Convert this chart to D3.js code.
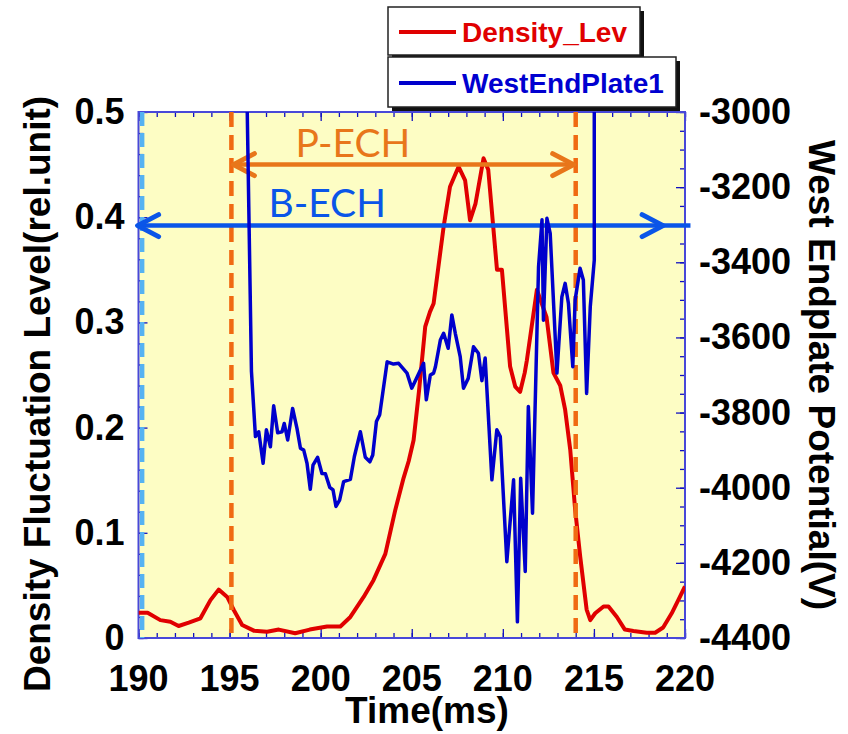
<!DOCTYPE html>
<html>
<head>
<meta charset="utf-8">
<script src="https://cdn.jsdelivr.net/npm/d3@7"></script>
<style>
  body { margin: 0; background: #fff; }
  svg { display: block; }
</style>
</head>
<body>
<svg width="848" height="734"></svg>
<script>
// Density fluctuation level (left axis)
const densityTime = [190.0, 190.5, 191.2, 191.75, 192.2, 192.76, 193.4, 193.95, 194.4, 194.87, 195.23, 195.69,
  196.33, 197.06, 197.7, 198.6, 199.4, 200.35, 201.08, 201.63, 202.36, 202.9, 203.55, 204.1, 204.55, 204.83,
  205.1, 205.4, 205.74, 206.0, 206.2, 206.75, 207.1, 207.57, 207.93, 208.2, 208.5, 208.94, 209.2, 209.68,
  209.95, 210.4, 210.68, 210.95, 211.2, 211.32, 211.87, 212.4, 212.78, 213.15, 213.42, 213.7, 213.97, 214.25,
  214.6, 214.8, 215.07, 215.53, 215.8, 216.26, 216.7, 217.17, 217.9, 218.36, 218.8, 219.27, 219.63, 220.0];
const densityLevel = [0.024, 0.024, 0.017, 0.0155, 0.0114, 0.0146, 0.0187, 0.036, 0.046, 0.039, 0.0266, 0.0124,
  0.007, 0.006, 0.008, 0.0045, 0.008, 0.011, 0.011, 0.020, 0.039, 0.055, 0.080, 0.122, 0.152, 0.168,
  0.188, 0.235, 0.296, 0.31, 0.318, 0.391, 0.429, 0.448, 0.435, 0.397, 0.413, 0.456, 0.445, 0.350,
  0.350, 0.258, 0.239, 0.234, 0.252, 0.264, 0.331, 0.305, 0.252, 0.240, 0.217, 0.179, 0.122, 0.077,
  0.027, 0.017, 0.0235, 0.030, 0.030, 0.020, 0.008, 0.0066, 0.005, 0.005, 0.010, 0.0235, 0.036, 0.049];

// West endplate potential (right axis)
const plateTime = [195.97, 196.2, 196.42, 196.6, 196.84, 197.02, 197.24, 197.42, 197.64, 197.88, 198.0, 198.19,
  198.46, 198.7, 198.89, 199.07, 199.25, 199.43, 199.58, 199.83, 200.07, 200.26, 200.5, 200.68, 200.84, 201.04,
  201.26, 201.63, 201.85, 202.18, 202.45, 202.7, 202.86, 203.06, 203.24, 203.65, 204.0, 204.28, 204.74, 205.0,
  205.3, 205.65, 205.8, 206.02, 206.2, 206.3, 206.57, 206.75, 207.0, 207.2, 207.39, 207.66, 207.84, 208.1,
  208.39, 208.66, 208.85, 209.03, 209.4, 209.67, 209.86, 210.22, 210.59, 210.8, 210.98, 211.23, 211.4, 211.63,
  211.96, 212.15, 212.23, 212.42, 212.6, 212.97, 213.24, 213.42, 213.6, 213.84, 213.97, 214.24, 214.42, 214.6,
  214.8, 215.02, 215.02];
const platePotential = [-3000, -3690, -3864, -3851, -3935, -3846, -3891, -3782, -3854, -3851, -3829, -3873,
  -3789, -3842, -3895, -3900, -3935, -4004, -3940, -3919, -3962, -3963, -3999, -4006, -4050, -4033,
  -3984, -3978, -3917, -3851, -3919, -3931, -3913, -3824, -3806, -3665, -3671, -3669, -3695, -3735,
  -3705, -3669, -3766, -3700, -3695, -3678, -3607, -3589, -3629, -3540, -3589, -3651, -3735, -3709,
  -3625, -3642, -3715, -3655, -3979, -3846, -3864, -4197, -3979, -4357, -3975, -4223, -3784, -4068,
  -3412, -3287, -3554, -3283, -3323, -3695, -3492, -3456, -3509, -3678, -3500, -3416, -3447, -3749,
  -3518, -3394, -3000];

const xTickValues = [190, 195, 200, 205, 210, 215, 220];
const leftTickValues = [0, 0.1, 0.2, 0.3, 0.4, 0.5];
const rightTickValues = [-4400, -4200, -4000, -3800, -3600, -3400, -3200, -3000];

// heating windows
const pEch = { start: 195.1, end: 214.0, level: 0.45, label: "P-ECH" };
const bEch = { start: 189.95, head: 218.8, end: 220.3, level: 0.392, label: "B-ECH" };
const bEchMarker = 190.2;

const svg = d3.select("svg");
const margin = { top: 112, right: 163, bottom: 96, left: 138.5 };
const width = +svg.attr("width") - margin.left - margin.right;
const height = +svg.attr("height") - margin.top - margin.bottom;
const chart = svg.append("g").attr("transform", `translate(${margin.left},${margin.top})`);

const x = d3.scaleLinear().domain([190, 220]).range([0, width]);
const yL = d3.scaleLinear().domain([0, 0.5]).range([height, 0]);
const yR = d3.scaleLinear().domain([-4400, -3000]).range([height, 0]);

const bold = "'Liberation Sans', Arial, sans-serif";

// plot background
chart.append("rect")
  .attr("width", width)
  .attr("height", height)
  .attr("fill", "#fdfdc4");

svg.append("defs").append("clipPath").attr("id", "clip")
  .append("rect").attr("width", width).attr("height", height);

// minor / major ticks, all pointing into the plot
const tickColor = "#1010c0";
function ticks(axis, transform) {
  const g = chart.append("g").attr("transform", transform).call(axis);
  g.select(".domain").remove();
  g.selectAll("line").attr("stroke", tickColor).attr("stroke-width", 1.3);
  g.selectAll("text").remove();
}
const xMinor = d3.range(190, 221);
const leftMinor = d3.range(0, 26).map(i => i * 0.02);
const rightMinor = d3.range(-4400, -2999, 50);

ticks(d3.axisBottom(x).tickValues(xMinor).tickSize(-5), `translate(0,${height})`);
ticks(d3.axisBottom(x).tickValues(xTickValues).tickSize(-9), `translate(0,${height})`);
ticks(d3.axisTop(x).tickValues(xMinor).tickSize(-5), "translate(0,0)");
ticks(d3.axisTop(x).tickValues(xTickValues).tickSize(-9), "translate(0,0)");
ticks(d3.axisLeft(yL).tickValues(leftMinor).tickSize(-5), "translate(0,0)");
ticks(d3.axisLeft(yL).tickValues(leftTickValues).tickSize(-9), "translate(0,0)");
ticks(d3.axisRight(yR).tickValues(rightMinor).tickSize(-5), `translate(${width},0)`);
ticks(d3.axisRight(yR).tickValues(rightTickValues).tickSize(-9), `translate(${width},0)`);

// frame
chart.append("rect")
  .attr("width", width)
  .attr("height", height)
  .attr("fill", "none")
  .attr("stroke", "#4848d8")
  .attr("stroke-width", 2);

// density line
const densityData = densityTime.map((t, i) => ({ t, v: densityLevel[i] }));
chart.append("path")
  .datum(densityData)
  .attr("clip-path", "url(#clip)")
  .attr("fill", "none")
  .attr("stroke", "#e00000")
  .attr("stroke-width", 4)
  .attr("stroke-linejoin", "round")
  .attr("d", d3.line().x(d => x(d.t)).y(d => yL(d.v)));

// vertical dashed markers
chart.append("line")
  .attr("x1", x(bEchMarker)).attr("x2", x(bEchMarker))
  .attr("y1", 0).attr("y2", height)
  .attr("stroke", "#55b2f2").attr("stroke-width", 4.5)
  .attr("stroke-dasharray", "14,7");

[pEch.start, pEch.end].forEach(t => {
  chart.append("line")
    .attr("x1", x(t)).attr("x2", x(t))
    .attr("y1", 0).attr("y2", height)
    .attr("stroke", "#f06a12").attr("stroke-width", 4.5)
    .attr("stroke-dasharray", "15,8");
});

// arrows
function arrowHead(tip, dir, yy, color) {
  chart.append("path")
    .attr("d", `M${tip + dir * 21},${yy - 11}L${tip},${yy}L${tip + dir * 21},${yy + 11}`)
    .attr("fill", "none")
    .attr("stroke", color)
    .attr("stroke-width", 5)
    .attr("stroke-linecap", "round")
    .attr("stroke-linejoin", "round");
}

const pColor = "#e8761a";
chart.append("line")
  .attr("x1", x(pEch.start) + 2).attr("x2", x(pEch.end) - 2)
  .attr("y1", yL(pEch.level)).attr("y2", yL(pEch.level))
  .attr("stroke", pColor).attr("stroke-width", 4.5);
arrowHead(x(pEch.start) + 2, 1, yL(pEch.level), pColor);
arrowHead(x(pEch.end) - 2, -1, yL(pEch.level), pColor);
chart.append("text")
  .attr("x", 157).attr("y", 45)
  .attr("font-family", "Lato, 'Open Sans', sans-serif")
  .attr("font-size", 39)
  .attr("fill", pColor)
  .text(pEch.label);

const bColor = "#0a55e8";
chart.append("line")
  .attr("x1", x(bEch.start)).attr("x2", x(bEch.end))
  .attr("y1", yL(bEch.level)).attr("y2", yL(bEch.level))
  .attr("stroke", bColor).attr("stroke-width", 4.5);
arrowHead(x(bEch.start), 1, yL(bEch.level), bColor);
arrowHead(x(bEch.head), -1, yL(bEch.level), bColor);
chart.append("text")
  .attr("x", 130).attr("y", 105)
  .attr("font-family", "Lato, 'Open Sans', sans-serif")
  .attr("font-size", 39)
  .attr("fill", bColor)
  .text(bEch.label);

// endplate potential line
const plateData = plateTime.map((t, i) => ({ t, v: platePotential[i] }));
chart.append("path")
  .datum(plateData)
  .attr("clip-path", "url(#clip)")
  .attr("fill", "none")
  .attr("stroke", "#0000cc")
  .attr("stroke-width", 3.5)
  .attr("stroke-linejoin", "round")
  .attr("d", d3.line().x(d => x(d.t)).y(d => yR(d.v)));

// tick labels
chart.selectAll("text.xt")
  .data(xTickValues)
  .enter().append("text")
  .attr("x", d => x(d))
  .attr("y", height + 53)
  .attr("text-anchor", "middle")
  .attr("font-family", bold).attr("font-weight", "bold").attr("font-size", 36)
  .text(d => d);

chart.selectAll("text.yl")
  .data(leftTickValues)
  .enter().append("text")
  .attr("x", -14)
  .attr("y", d => yL(d) + 12)
  .attr("text-anchor", "end")
  .attr("font-family", bold).attr("font-weight", "bold").attr("font-size", 36)
  .text(d => d === 0 ? "0" : d3.format(".1f")(d));

chart.selectAll("text.yr")
  .data(rightTickValues)
  .enter().append("text")
  .attr("x", width + 14)
  .attr("y", d => yR(d) + 12)
  .attr("text-anchor", "start")
  .attr("font-family", bold).attr("font-weight", "bold").attr("font-size", 36)
  .text(d => d);

// axis titles
svg.append("text")
  .attr("x", 427).attr("y", 723)
  .attr("text-anchor", "middle")
  .attr("font-family", bold).attr("font-weight", "bold").attr("font-size", 37)
  .text("Time(ms)");

svg.append("text")
  .attr("transform", "translate(50,394) rotate(-90)")
  .attr("text-anchor", "middle")
  .attr("font-family", bold).attr("font-weight", "bold").attr("font-size", 37)
  .text("Density Fluctuation Level(rel.unit)");

svg.append("text")
  .attr("transform", "translate(809,375) rotate(90)")
  .attr("text-anchor", "middle")
  .attr("font-family", bold).attr("font-weight", "bold").attr("font-size", 37)
  .text("West Endplate Potential(V)");

// legend, two stacked boxes with drop shadow
const legendItems = [
  { name: "Density_Lev", color: "#e00000", lineColor: "#e00000", box: [388, 7, 252, 48] },
  { name: "WestEndPlate1", color: "#0000d0", lineColor: "#0000cc", box: [388, 57, 288, 50] }
];
legendItems.forEach(it => {
  const [bx, by, bw, bh] = it.box;
  const g = svg.append("g");
  g.append("rect").attr("x", bx + 4).attr("y", by + 4).attr("width", bw).attr("height", bh).attr("fill", "#111");
  g.append("rect").attr("x", bx).attr("y", by).attr("width", bw).attr("height", bh)
    .attr("fill", "#fff").attr("stroke", "#222").attr("stroke-width", 1.5);
  g.append("line").attr("x1", bx + 11).attr("x2", bx + 68)
    .attr("y1", by + bh / 2 + 1).attr("y2", by + bh / 2 + 1)
    .attr("stroke", it.lineColor).attr("stroke-width", 4);
  g.append("text").attr("x", bx + 74).attr("y", by + bh / 2 + 11)
    .attr("font-family", bold).attr("font-weight", "bold").attr("font-size", 28)
    .attr("fill", it.color)
    .text(it.name);
});
</script>
</body>
</html>
